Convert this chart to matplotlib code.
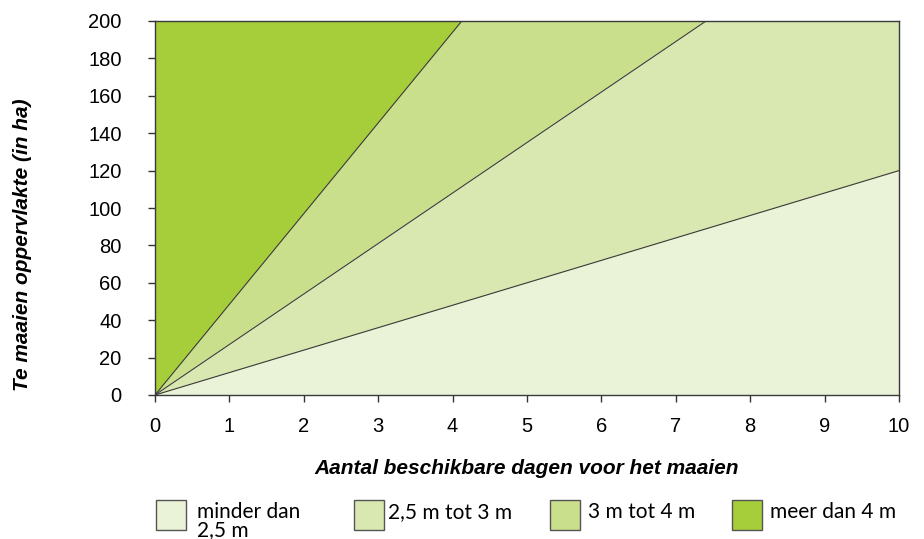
import matplotlib
matplotlib.use("Agg")
import matplotlib.pyplot as plt
from matplotlib.patches import Rectangle
import numpy as np

# Data
days = [0, 10]
boundary_slopes = [12, 27, 48.5]          # ha per day at band boundaries
categories = ["minder dan\n2,5 m", "2,5 m tot 3 m", "3 m tot 4 m", "meer dan 4 m"]
colors = ["#eaf2d7", "#d9e7b0", "#c9df8b", "#a6cd3a"]
xticks = list(range(0, 11))
yticks = list(range(0, 201, 20))

plt.rcParams['font.family'] = ["Liberation Sans", "DejaVu Sans"]

fig = plt.figure(figsize=(9.24, 5.39), dpi=100)
ax = fig.add_axes([155/924, 1-395/539, (899-155)/924, (395-21)/539])

x = np.array(days, dtype=float)
ymax = 200
lower = np.zeros_like(x)
bounds = [np.array([s*xi for xi in x]) for s in boundary_slopes] + [np.full_like(x, 1e4)]
for i, b in enumerate(bounds):
    ax.fill_between(x, lower, b, color=colors[i], lw=0, zorder=1)
    lower = b
for s in boundary_slopes:
    ax.plot(x, [s*xi for xi in x], color="#3a3a3a", lw=0.8, zorder=2)

ax.set_xlim(0, 10)
ax.set_ylim(0, ymax)
ax.set_xticks(xticks)
ax.set_yticks(yticks)
ax.tick_params(direction="out", length=5, width=1, color="#333333", labelsize=14.5)
ax.tick_params(axis="y", pad=19)
ax.tick_params(axis="x", pad=11)
for sp in ax.spines.values():
    sp.set_color("#3a3a3a")
    sp.set_linewidth(1)
    sp.set_zorder(3)

fig.text(527/924, 1-468/539, "Aantal beschikbare dagen voor het maaien", fontsize=15,
         fontweight="bold", style="italic", ha="center", va="center")
fig.text(23/924, 1-245/539, "Te maaien oppervlakte (in ha)", fontsize=15,
         fontweight="bold", style="italic", ha="center", va="center", rotation=90)

# Legend
leg_x = [156, 354, 550, 732]
txt_x = [197, 388, 588, 770]
for i, (cat, col) in enumerate(zip(categories, colors)):
    px = leg_x[i]
    fig.add_artist(Rectangle((px/924, 1-530/539), 30/924, 30/539,
                             transform=fig.transFigure, facecolor=col,
                             edgecolor="#555555", lw=1))
    fig.text(txt_x[i]/924, 1-502/539, cat, ha="left", va="top", fontsize=15,
             family=["Lato", "DejaVu Sans"], linespacing=0.9)

fig.savefig("out.png", dpi=100)
